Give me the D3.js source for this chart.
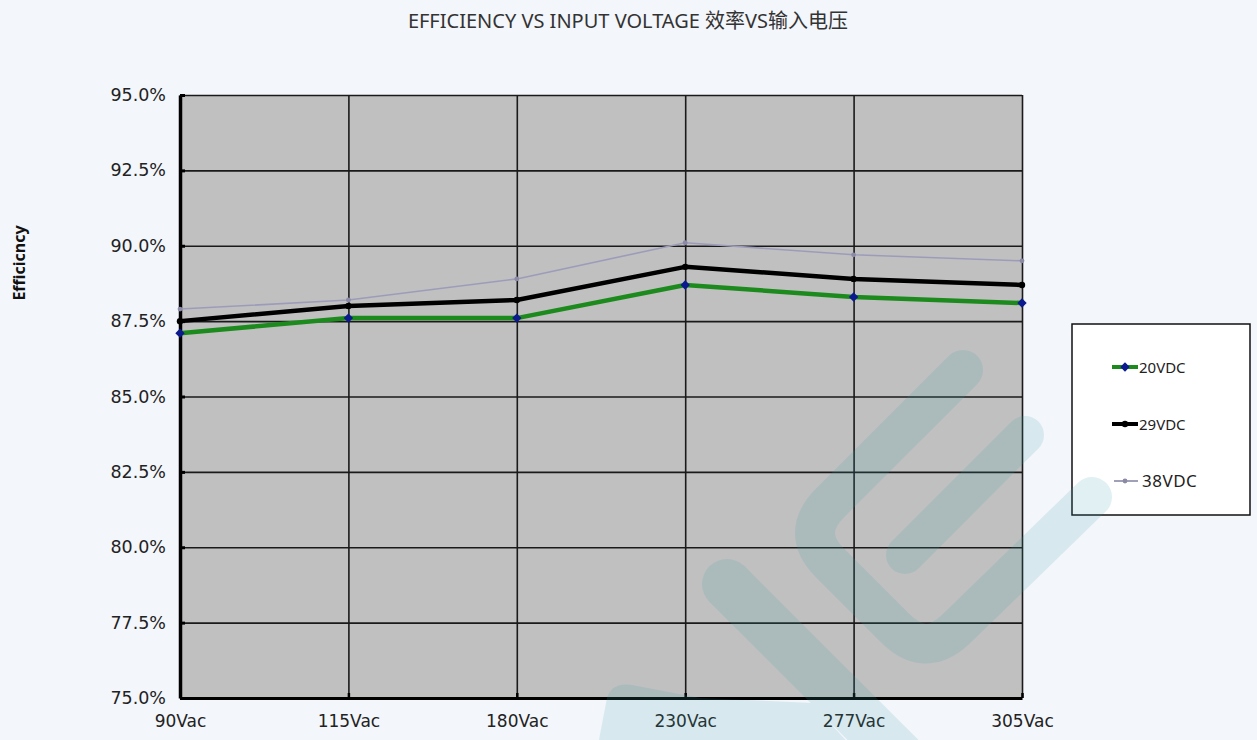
<!DOCTYPE html>
<html>
<head>
<meta charset="utf-8">
<script src="https://cdn.jsdelivr.net/npm/d3@7"></script>
<style>
body{margin:0;background:#f3f6fb;}
</style>
</head>
<body>
<div id="canva"></div>
<script>
var voltages = ["90Vac","115Vac","180Vac","230Vac","277Vac","305Vac"];
var eff20 = [87.1, 87.6, 87.6, 88.7, 88.3, 88.1];
var eff29 = [87.5, 88.0, 88.2, 89.3, 88.9, 88.7];
var eff38 = [87.9, 88.2, 88.9, 90.1, 89.7, 89.5];
var yTicks = [75, 77.5, 80, 82.5, 85, 87.5, 90, 92.5, 95];
var seriesNames = ["20VDC","29VDC","38VDC"];

var series = [
	{name: seriesNames[0], values: eff20, color: "#1d8a1d", width: 4.5, marker: "diamond"},
	{name: seriesNames[1], values: eff29, color: "#000000", width: 4.5, marker: "dot"},
	{name: seriesNames[2], values: eff38, color: "#9c9cba", width: 1.6, marker: "small"}
];

var margin = {top: 95, left: 180, right: 235, bottom: 42},
	W = 1257, H = 740,
	width = W - margin.left - margin.right,
	height = H - margin.top - margin.bottom;

var svg = d3.select("#canva")
	.append("svg")
	.attr("width", W)
	.attr("height", H)
	.style("display", "block");

svg.append("rect").attr("width", W).attr("height", H).attr("fill", "#f3f6fb");

var g = svg.append("g")
	.attr("transform", "translate(" + margin.left + "," + margin.top + ")");

var x = d3.scalePoint().domain(voltages).range([0, width]);
var y = d3.scaleLinear().domain([75, 95]).range([height, 0]);

// plot background
g.append("rect")
	.attr("width", width)
	.attr("height", height)
	.attr("fill", "#c0c0c0");

// grid
g.append("g")
	.attr("class", "grid")
	.call(d3.axisLeft(y).tickValues(yTicks).tickSize(-width).tickFormat(""))
	.call(s => s.select(".domain").remove())
	.selectAll("line").attr("stroke", "#1a1a1a").attr("stroke-width", 1.6);

g.append("g")
	.attr("class", "grid")
	.attr("transform", "translate(0," + height + ")")
	.call(d3.axisBottom(x).tickSize(height).tickFormat(""))
	.call(s => s.select(".domain").remove())
	.selectAll("line")
	.attr("transform", "translate(0," + (-height) + ")")
	.attr("stroke", "#1a1a1a").attr("stroke-width", 1.6);

// axes
var yAxis = g.append("g")
	.call(d3.axisLeft(y).tickValues(yTicks).tickSizeInner(-5).tickSizeOuter(0).tickPadding(14)
		.tickFormat(d => d.toFixed(1) + "%"));
yAxis.select(".domain").attr("stroke", "#000").attr("stroke-width", 3.5);
yAxis.selectAll("line").attr("stroke", "#000").attr("stroke-width", 3);
yAxis.selectAll("text")
	.attr("font-family", "DejaVu Sans, sans-serif")
	.attr("font-size", "17.5px")
	.attr("fill", "#222");

var xAxis = g.append("g")
	.attr("transform", "translate(0," + height + ")")
	.call(d3.axisBottom(x).tickSizeInner(-5).tickSizeOuter(0).tickPadding(17));
xAxis.select(".domain").attr("stroke", "#000").attr("stroke-width", 3);
xAxis.selectAll("line").attr("stroke", "#000").attr("stroke-width", 2.5);
xAxis.selectAll("text")
	.attr("font-family", "DejaVu Sans, sans-serif")
	.attr("font-size", "17px")
	.attr("fill", "#222");

// lines
var line = d3.line()
	.x((d, i) => x(voltages[i]))
	.y(d => y(d));

g.selectAll(".series")
	.data(series)
	.enter()
	.append("path")
	.attr("class", "series")
	.attr("fill", "none")
	.attr("stroke", d => d.color)
	.attr("stroke-width", d => d.width)
	.attr("stroke-linejoin", "round")
	.attr("d", d => line(d.values));

function drawMarker(sel, s, cx, cy) {
	if (s.marker == "diamond") {
		sel.append("path")
			.attr("d", d3.symbol(d3.symbolSquare).size(44)())
			.attr("transform", "translate(" + cx + "," + cy + ") rotate(45)")
			.attr("fill", "#0b1a8c");
	} else if (s.marker == "dot") {
		sel.append("circle").attr("cx", cx).attr("cy", cy).attr("r", 3.2).attr("fill", "#000");
	} else {
		sel.append("circle").attr("cx", cx).attr("cy", cy).attr("r", 2.4).attr("fill", "#8a8aa6");
	}
}

series.forEach(function(s) {
	var mg = g.append("g");
	s.values.forEach(function(v, i) {
		drawMarker(mg, s, x(voltages[i]), y(v));
	});
});

// title
svg.append("text")
	.attr("x", 628)
	.attr("y", 28)
	.attr("text-anchor", "middle")
	.attr("font-family", "'Noto Sans', 'Noto Sans CJK SC', sans-serif")
	.attr("font-size", "20px")
	.attr("fill", "#333")
	.text("EFFICIENCY VS INPUT VOLTAGE 效率VS输入电压");

// y title
svg.append("text")
	.attr("transform", "translate(25,263) rotate(-90)")
	.attr("text-anchor", "middle")
	.attr("font-family", "'Noto Sans', sans-serif")
	.attr("font-weight", "bold")
	.attr("font-size", "16px")
	.attr("fill", "#111")
	.text("Efficicncy");

// legend
var legend = svg.append("g").attr("transform", "translate(1072,324)");
legend.append("rect")
	.attr("width", 178)
	.attr("height", 191)
	.attr("fill", "#fff")
	.attr("stroke", "#111")
	.attr("stroke-width", 1.5);

series.forEach(function(s, i) {
	var ly = 43 + i * 57;
	var lg = legend.append("g");
	lg.append("line")
		.attr("x1", s.marker == "small" ? 42 : 40).attr("x2", 66)
		.attr("y1", ly).attr("y2", ly)
		.attr("stroke", s.color == "#9c9cba" ? "#8080a0" : s.color)
		.attr("stroke-width", s.marker == "small" ? 1.5 : 4);
	drawMarker(lg, s, 53, ly);
	lg.append("text")
		.attr("x", s.marker == "small" ? 70 : 67)
		.attr("y", ly + 5.5)
		.attr("font-family", "'Noto Sans', sans-serif")
		.attr("font-size", s.marker == "small" ? "17px" : "15px")
		.attr("letter-spacing", s.marker == "small" ? "0.5px" : "0px")
		.attr("fill", "#222")
		.text(s.name);
});

// watermark
var wm = svg.append("g")
	.attr("fill", "none")
	.attr("stroke", "rgb(60,160,170)")
	.attr("stroke-linecap", "round")
	.attr("stroke-linejoin", "round")
	.attr("opacity", 0.15)
	.style("pointer-events", "none");

wm.append("path")
	.attr("stroke-width", 40)
	.attr("d", "M963,370 L830,503 Q800,533 830,563 L895,628 Q925,658 955,630 L1092,497");
wm.append("path")
	.attr("stroke-width", 38)
	.attr("d", "M1025,435 L905,555");
wm.append("path")
	.attr("stroke-width", 50)
	.attr("d", "M727,584 L900,757");
wm.append("path")
	.attr("stroke", "none")
	.attr("fill", "rgb(60,160,170)")
	.attr("d", "M598,745 L607,698 Q612,682 632,685 L700,698 L812,703 L850,745 Z");
</script>
</body>
</html>
